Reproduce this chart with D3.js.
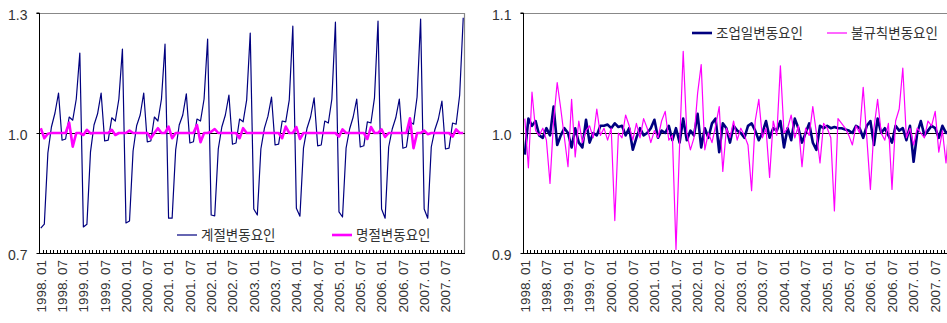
<!DOCTYPE html>
<html>
<head>
<meta charset="utf-8">
<script src="https://cdn.jsdelivr.net/npm/d3@7"></script>
<style>
	body { margin: 0; background: #fff; }
	svg { display: block; font-family: "Liberation Sans", Arial, sans-serif; }
	.legend text { font-family: "Noto Sans CJK KR", sans-serif; }
</style>
</head>
<body>
<svg id="chart" width="947" height="323"></svg>
<script>
const years = [1998, 1999, 2000, 2001, 2002, 2003, 2004, 2005, 2006, 2007];
const monthCodes = ["01", "02", "03", "04", "05", "06", "07", "08", "09", "10", "11", "12"];
const months = years.flatMap(y => monthCodes.map(m => y + ". " + m));
const tickLabels = months.filter((d, i) => i % 6 === 0);

// 계절변동요인
const seasonal = [
	0.762, 0.772, 0.950, 1.015, 1.050, 1.100, 0.982, 0.985, 1.040, 1.032, 1.085, 1.200,
	0.765, 0.772, 0.952, 1.020, 1.048, 1.100, 0.980, 0.982, 1.038, 1.030, 1.085, 1.210,
	0.775, 0.780, 0.955, 1.018, 1.045, 1.100, 0.978, 0.980, 1.040, 1.030, 1.085, 1.222,
	0.787, 0.787, 0.958, 1.020, 1.045, 1.098, 0.975, 0.978, 1.035, 1.030, 1.085, 1.235,
	0.795, 0.793, 0.960, 1.015, 1.045, 1.095, 0.972, 0.975, 1.035, 1.028, 1.083, 1.250,
	0.810, 0.795, 0.960, 1.012, 1.042, 1.090, 0.970, 0.972, 1.030, 1.028, 1.083, 1.267,
	0.812, 0.792, 0.962, 1.012, 1.040, 1.088, 0.968, 0.970, 1.030, 1.025, 1.085, 1.277,
	0.803, 0.790, 0.962, 1.010, 1.040, 1.085, 0.965, 0.968, 1.028, 1.025, 1.088, 1.280,
	0.810, 0.787, 0.965, 1.010, 1.038, 1.085, 0.962, 0.965, 1.028, 1.022, 1.090, 1.285,
	0.810, 0.787, 0.965, 1.008, 1.035, 1.080, 0.960, 0.962, 1.025, 1.022, 1.095, 1.288
];

// 명절변동요인
const holiday = [
	1.012, 0.987, 0.998, 1.000, 1.000, 1.000, 1.000, 1.000, 1.026, 0.966, 1.000, 1.000,
	0.995, 1.008, 0.999, 1.000, 1.000, 1.000, 1.000, 1.000, 1.008, 0.995, 1.000, 1.000,
	1.000, 1.006, 1.000, 1.000, 1.000, 1.000, 1.000, 0.987, 1.000, 1.012, 1.000, 1.000,
	1.016, 0.987, 1.000, 1.000, 1.000, 1.000, 1.000, 1.000, 1.020, 0.977, 1.000, 1.000,
	1.003, 1.010, 1.000, 1.000, 1.000, 1.000, 1.000, 1.000, 0.987, 1.012, 1.000, 1.000,
	1.000, 1.000, 1.000, 1.000, 1.000, 1.000, 1.000, 1.000, 0.987, 1.016, 1.000, 1.000,
	1.015, 0.985, 1.000, 1.000, 1.000, 1.000, 1.000, 1.000, 1.000, 1.000, 1.000, 1.000,
	0.991, 1.009, 1.000, 1.000, 1.000, 1.000, 1.000, 1.000, 0.985, 1.015, 1.000, 1.000,
	1.009, 0.990, 1.000, 1.000, 1.000, 1.000, 1.000, 1.000, 1.037, 0.962, 1.000, 1.000,
	1.006, 0.997, 1.000, 1.000, 1.000, 1.000, 1.000, 1.000, 0.991, 1.009, 1.000, 1.000
];

// 조업일변동요인
const tradingDay = [
	0.982, 1.012, 1.006, 1.010, 0.998, 0.996, 1.004, 0.998, 1.022, 0.990, 0.998, 1.004,
	1.000, 0.988, 1.004, 0.992, 0.988, 1.011, 0.992, 1.000, 0.998, 1.006, 1.006, 1.007,
	1.004, 1.008, 1.005, 1.006, 0.998, 1.004, 0.986, 0.996, 1.004, 0.998, 1.000, 1.004,
	1.011, 0.996, 1.002, 1.000, 1.006, 0.994, 1.004, 0.992, 1.012, 0.994, 1.002, 0.998,
	1.016, 0.988, 1.004, 0.996, 1.008, 1.012, 0.984, 1.008, 1.004, 0.992, 1.006, 1.002,
	1.000, 0.996, 1.006, 1.008, 1.002, 0.994, 1.000, 1.010, 0.996, 1.004, 1.002, 1.010,
	0.988, 1.004, 0.994, 1.012, 1.004, 0.992, 1.000, 1.008, 0.992, 0.986, 1.006, 1.004,
	1.006, 1.004, 1.005, 1.004, 1.004, 1.003, 1.002, 1.000, 1.006, 1.004, 0.996, 1.006,
	1.010, 0.990, 1.012, 1.000, 1.004, 0.998, 0.992, 1.006, 1.002, 1.004, 0.994, 1.006,
	0.976, 1.000, 1.010, 0.998, 1.002, 1.006, 1.004, 0.996, 1.006, 1.000, 1.002, 0.992
];

// 불규칙변동요인
const irregular = [
	1.012, 0.971, 1.034, 1.002, 0.998, 1.004, 0.994, 0.958, 1.010, 1.042, 1.020, 0.996,
	0.972, 1.028, 0.980, 1.010, 0.992, 1.002, 1.006, 0.996, 1.020, 0.998, 1.004, 0.994,
	1.004, 0.927, 1.000, 0.996, 1.015, 1.006, 0.994, 1.008, 0.996, 1.012, 1.004, 0.992,
	1.002, 0.996, 1.010, 1.018, 0.994, 0.998, 0.903, 0.990, 1.068, 1.000, 0.986, 0.996,
	1.033, 1.057, 0.986, 1.000, 0.992, 1.006, 1.022, 0.968, 1.004, 0.996, 1.010, 0.994,
	1.004, 0.998, 0.990, 0.952, 1.010, 1.028, 0.996, 1.004, 0.963, 1.010, 0.998, 1.056,
	1.000, 1.004, 1.015, 0.996, 1.006, 0.972, 1.004, 0.998, 1.022, 1.000, 0.975, 1.008,
	1.004, 0.996, 0.935, 1.012, 1.008, 1.004, 0.998, 0.990, 1.006, 1.000, 1.038, 0.996,
	0.953, 1.004, 1.028, 1.000, 0.994, 1.008, 0.953, 1.010, 1.020, 1.054, 0.996, 1.004,
	0.990, 1.004, 1.000, 0.996, 1.010, 1.006, 1.018, 0.984, 1.002, 0.975, 1.012, 0.990
];

const leftTicks = [0.7, 1.0, 1.3];
const rightTicks = [0.9, 1.0, 1.1];
const leftNames = ["계절변동요인", "명절변동요인"];
const rightNames = ["조업일변동요인", "불규칙변동요인"];

const NAVY = "#00007f";
const MAGENTA = "#ff00ff";
const svg = d3.select("#chart");

drawPanel({
	left: 39, right: 465, top: 13, bottom: 253,
	domain: [0.7, 1.3], ticks: leftTicks,
	series: [
		{ values: seasonal, color: NAVY, width: 1.2 },
		{ values: holiday, color: MAGENTA, width: 2.6 }
	],
	legend: [
		{ name: leftNames[0], color: NAVY, width: 1.2, x: 177, y: 235 },
		{ name: leftNames[1], color: MAGENTA, width: 2.6, x: 332, y: 235 }
	]
});

drawPanel({
	left: 523, right: 955, top: 13, bottom: 253,
	domain: [0.9, 1.1], ticks: rightTicks,
	series: [
		{ values: tradingDay, color: NAVY, width: 2.6 },
		{ values: irregular, color: MAGENTA, width: 1.2 }
	],
	legend: [
		{ name: rightNames[0], color: NAVY, width: 2.6, x: 692, y: 33 },
		{ name: rightNames[1], color: MAGENTA, width: 1.2, x: 827, y: 33 }
	]
});

function drawPanel(p) {
	const g = svg.append("g");
	const x = d3.scaleBand().domain(months).range([p.left, p.right]).padding(0);
	const y = d3.scaleLinear().domain(p.domain).range([p.bottom, p.top]);
	const cx = d => x(d) + x.bandwidth() / 2;

	// frame (top and right, grey)
	g.append("path")
		.attr("d", `M${p.left},${p.top + 0.5}H${p.right - 0.5}V${p.bottom}`)
		.attr("fill", "none")
		.attr("stroke", "#888")
		.attr("stroke-width", 1.2);

	// reference line at 1.0
	g.append("line")
		.attr("x1", p.left).attr("x2", p.right)
		.attr("y1", Math.round(y(1)) + 0.5).attr("y2", Math.round(y(1)) + 0.5)
		.attr("stroke", "#000")
		.attr("stroke-width", 1);

	p.series.forEach(s => {
		const line = d3.line()
			.x((d, i) => cx(months[i]))
			.y(d => y(d));
		g.append("path")
			.datum(s.values)
			.attr("d", line)
			.attr("fill", "none")
			.attr("stroke", s.color)
			.attr("stroke-width", s.width)
			.attr("stroke-linejoin", "round");
	});

	// left axis
	const yAxis = d3.axisLeft(y).tickValues(p.ticks).tickSize(3).tickFormat(d3.format(".1f"));
	const ya = g.append("g").attr("transform", `translate(${p.left + 0.5},0)`).call(yAxis);
	ya.select(".domain").attr("stroke", "#000").attr("d", `M-3,${p.top}H0V${p.bottom}`);
	ya.selectAll("text")
		.attr("x", -12)
		.attr("dy", "0.45em")
		.style("font-size", "14px")
		.style("font-family", "Liberation Sans, Arial, sans-serif")
		.attr("fill", "#333");

	// bottom axis with a tick at every month
	const xa = g.append("g");
	xa.append("line")
		.attr("x1", p.left).attr("x2", p.right)
		.attr("y1", p.bottom + 0.5).attr("y2", p.bottom + 0.5)
		.attr("stroke", "#000");
	xa.selectAll(".mt")
		.data(months)
		.join("line")
		.attr("class", "mt")
		.attr("x1", d => Math.round(x(d)) + 0.5)
		.attr("x2", d => Math.round(x(d)) + 0.5)
		.attr("y1", p.bottom)
		.attr("y2", p.bottom - 3)
		.attr("stroke", "#000")
		.attr("stroke-width", 1);

	xa.selectAll(".lbl")
		.data(tickLabels)
		.join("text")
		.attr("class", "lbl")
		.attr("transform", d => `translate(${cx(d)},${p.bottom + 7}) rotate(-90)`)
		.attr("dy", "0.36em")
		.attr("text-anchor", "end")
		.style("font-size", "13.5px")
		.attr("fill", "#333")
		.text(d => d);

	// legend
	const lg = g.append("g").attr("class", "legend");
	p.legend.forEach(l => {
		lg.append("line")
			.attr("x1", l.x).attr("x2", l.x + 20)
			.attr("y1", l.y).attr("y2", l.y)
			.attr("stroke", l.color)
			.attr("stroke-width", l.width);
		lg.append("text")
			.attr("x", l.x + 24)
			.attr("y", l.y)
			.attr("dy", "0.35em")
			.style("font-size", "13.5px")
			.attr("fill", "#333")
			.text(l.name);
	});
}
</script>
</body>
</html>
